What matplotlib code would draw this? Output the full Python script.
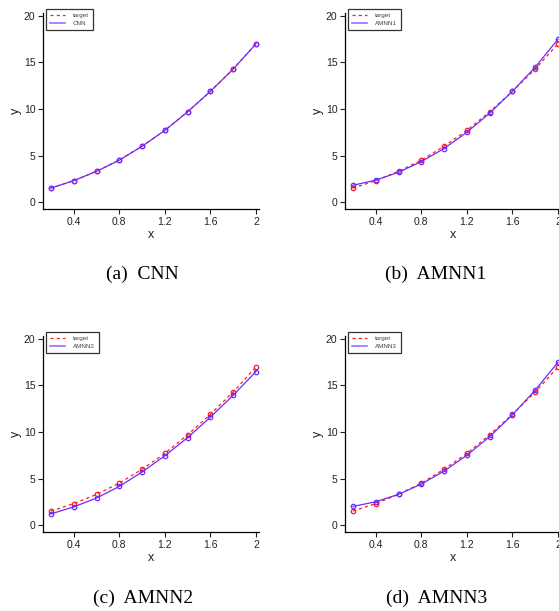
import matplotlib
matplotlib.use('Agg')
import matplotlib.pyplot as plt

plt.rcParams['font.family'] = ['Liberation Sans', 'DejaVu Sans']

# sample points and the target curve
x_vals = [0.2, 0.4, 0.6, 0.8, 1.0, 1.2, 1.4, 1.6, 1.8, 2.0]
target = [1.5, 2.3, 3.3, 4.5, 6.0, 7.7, 9.7, 11.9, 14.3, 17.0]

# model outputs
cnn = [1.5, 2.3, 3.3, 4.5, 6.0, 7.7, 9.7, 11.9, 14.3, 17.0]
amnn1 = [1.8, 2.35, 3.2, 4.35, 5.75, 7.5, 9.55, 11.9, 14.5, 17.5]
amnn2 = [1.2, 1.95, 2.9, 4.15, 5.7, 7.45, 9.4, 11.6, 13.95, 16.5]
amnn3 = [2.0, 2.5, 3.3, 4.4, 5.8, 7.5, 9.5, 11.85, 14.5, 17.5]

model_names = ['CNN', 'AMNN1', 'AMNN2', 'AMNN3']
model_series = [cnn, amnn1, amnn2, amnn3]
captions = ['(a)  CNN', '(b)  AMNN1', '(c)  AMNN2', '(d)  AMNN3']

x_ticks = [0.4, 0.8, 1.2, 1.6, 2.0]
x_ticklabels = ['0.4', '0.8', '1.2', '1.6', '2']
y_ticks = [0, 5, 10, 15, 20]

W, H = 559, 611
RED = '#ff1a1a'
PURPLE = '#6a2cff'

fig = plt.figure(figsize=(W / 100, H / 100), dpi=100)

# panel layout in pixels: (left, bottom) of the axes box
panels = [(43, 209), (345, 209), (43, 532), (345, 532)]
ax_w, ax_h = 216.4, 195.8
caption_pos = [(142, 274), (436, 274), (143, 598), (437, 598)]

for (left, bottom), name, series, cap, (cx, cy) in zip(
        panels, model_names, model_series, captions, caption_pos):
    ax = fig.add_axes([left / W, 1 - bottom / H, ax_w / W, ax_h / H])
    ax.plot(x_vals, target, '--', color=RED, linewidth=0.9,
            marker='o', markersize=3.2, markerfacecolor='none',
            markeredgewidth=0.9, dashes=(2.5, 2.5), label='target')
    ax.plot(x_vals, series, '-', color=PURPLE, linewidth=0.9,
            marker='o', markersize=3.2, markerfacecolor='none',
            markeredgewidth=0.9, label=name)

    ax.set_xlim(0.13, 2.03)
    ax.set_ylim(-0.75, 20.3)
    ax.set_xticks(x_ticks)
    ax.set_xticklabels(x_ticklabels)
    ax.set_yticks(y_ticks)
    ax.tick_params(direction='out', length=3.5, width=0.8, labelsize=7.5,
                   pad=2, colors='#222222')
    for side in ('top', 'right'):
        ax.spines[side].set_visible(False)
    for side in ('left', 'bottom'):
        ax.spines[side].set_linewidth(0.9)
    ax.set_xlabel('x', fontsize=9, labelpad=2, color='#222222')
    ax.set_ylabel('y', fontsize=9, labelpad=1, color='#222222')

    leg_x = (left + 3) / W
    leg_y = 1 - (bottom - ax_h - 4) / H
    leg = ax.legend(loc='upper left', bbox_to_anchor=(leg_x, leg_y),
                    bbox_transform=fig.transFigure, fontsize=4.5,
                    frameon=True, fancybox=False, edgecolor='black',
                    borderaxespad=0, handlelength=2.4, borderpad=0.6,
                    labelspacing=0.4, handletextpad=1.3)
    leg.get_frame().set_linewidth(0.9)
    for h in leg.legend_handles:
        h.set_marker('')
    leg.legend_handles[0].set_color(RED)
    leg.legend_handles[1].set_color('#9a70ff')
    leg.legend_handles[1].set_linewidth(1.2)
    for t in leg.get_texts():
        t.set_color('#444444')

    fig.text(cx / W, 1 - cy / H, cap, ha='center', va='center',
             fontsize=14, family='Liberation Serif')

fig.savefig('out.png', dpi=100)
